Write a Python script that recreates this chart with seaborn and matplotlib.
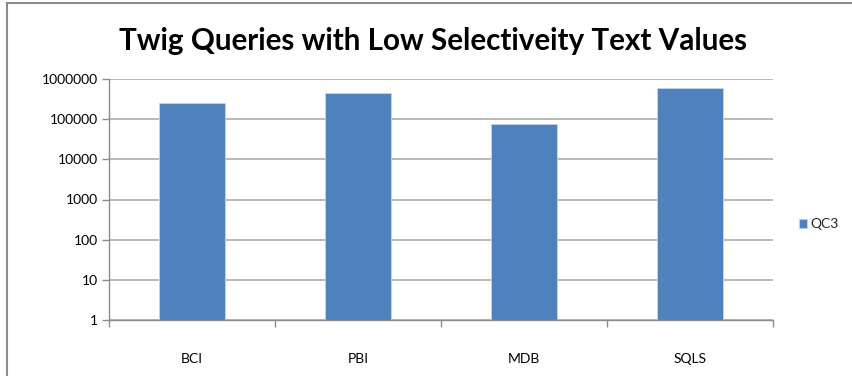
import matplotlib
matplotlib.use("Agg")
import matplotlib.pyplot as plt
from matplotlib.patches import Rectangle
from matplotlib.ticker import FixedLocator, FixedFormatter, NullFormatter
import seaborn as sns
import pandas as pd

systems = ["BCI", "PBI", "MDB", "SQLS"]
qc3_values = [257000, 450000, 75000, 600000]
y_ticks = [1, 10, 100, 1000, 10000, 100000, 1000000]
y_tick_labels = ["1", "10", "100", "1000", "10000", "100000", "1000000"]

sns.set_theme(style="white")
plt.rcParams["font.family"] = ["Lato", "DejaVu Sans"]

df = pd.DataFrame({"system": systems, "value": qc3_values, "series": "QC3"})

fig = plt.figure(figsize=(8.53, 3.76), dpi=100)
ax = fig.add_axes([109 / 853, 1 - 320 / 376, (773 - 109) / 853, (320 - 79) / 376])

bar_color = "#4F81BD"
sns.barplot(data=df, x="system", y="value", hue="series", palette=[bar_color],
            width=0.4, ax=ax, legend=True, saturation=1)
for p in ax.patches:
    p.set_edgecolor("#c6d5ea")
    p.set_linewidth(0.6)

ax.set_yscale("log")
ax.set_ylim(1, 1e6)
ax.set_xlim(-0.5, len(systems) - 0.5)
ax.yaxis.set_major_locator(FixedLocator(y_ticks))
ax.yaxis.set_major_formatter(FixedFormatter(y_tick_labels))
ax.yaxis.set_minor_locator(FixedLocator([]))
ax.set_xlabel("")
ax.set_ylabel("")

grid_color = "#a6a6a6"
ax.grid(axis="y", color=grid_color, linewidth=1.1)
ax.set_axisbelow(True)

for side in ["top", "right"]:
    ax.spines[side].set_visible(False)
for side in ["left", "bottom"]:
    ax.spines[side].set_color("#8c8c8c")
    ax.spines[side].set_linewidth(1.0)

ax.tick_params(axis="y", which="major", left=True, length=5, width=1,
               color="#8c8c8c", labelsize=10, labelcolor="black", pad=3)
ax.xaxis.set_minor_locator(FixedLocator([i - 0.5 for i in range(len(systems) + 1)]))
ax.xaxis.set_minor_formatter(NullFormatter())
ax.tick_params(axis="x", which="minor", bottom=True, length=5, width=1, color="#8c8c8c")
ax.tick_params(axis="x", which="major", bottom=False, length=0, pad=24,
               labelsize=10, labelcolor="black")

leg = ax.legend(loc="center left", bbox_to_anchor=(799 / 853, 1 - 224 / 376),
                bbox_transform=fig.transFigure, frameon=False, fontsize=10,
                handlelength=0.6, handleheight=0.6, handletextpad=0.25,
                borderaxespad=0, borderpad=0)

fig.text(433 / 853, 1 - 41 / 376, "Twig Queries with Low Selectiveity Text Values",
         ha="center", va="center", fontsize=21.3, fontweight="bold", color="black")

fig.patches.append(Rectangle((7 / 853, -0.1), 2.0, 1 - 3 / 376 + 0.1,
                             transform=fig.transFigure, fill=False,
                             edgecolor="#8c8c8c", linewidth=1.5, zorder=0))

fig.savefig("out.png", dpi=100)
